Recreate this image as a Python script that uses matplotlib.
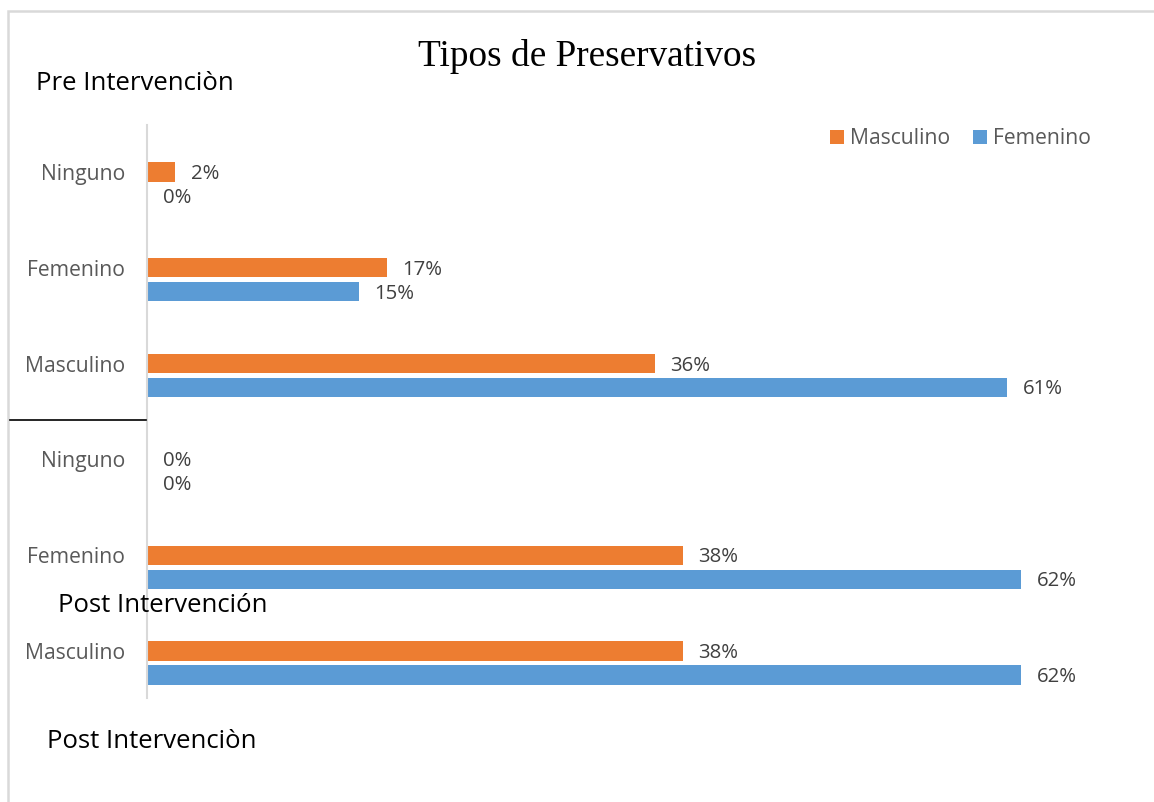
import matplotlib.pyplot as plt
from matplotlib.patches import Rectangle
from matplotlib.lines import Line2D

# datos (de arriba hacia abajo)
categorias = ["Ninguno", "Femenino", "Masculino", "Ninguno", "Femenino", "Masculino"]
masculino = [2, 17, 36, 0, 38, 38]
femenino = [0, 15, 61, 0, 62, 62]

naranja = "#ED7D31"
azul = "#5B9BD5"
gris = "#595959"
fuente = "Open Sans"

W, H = 1154, 802
fig = plt.figure(figsize=(W / 100, H / 100), dpi=100)

# eje en pixeles de la imagen
x0, x1 = 147, 1110
y_top, y_bot = 125, 698
ax = fig.add_axes([x0 / W, 1 - y_bot / H, (x1 - x0) / W, (y_bot - y_top) / H])

pos = list(range(len(categorias)))
alto = 0.2
sep = 0.25
ax.barh(pos, masculino, height=alto, color=naranja, label="Masculino")
ax.barh([p + sep for p in pos], femenino, height=alto, color=azul, label="Femenino")

for p, m, f in zip(pos, masculino, femenino):
    ax.text(m + 1.1, p + 0.02, f"{m}%", va="center", ha="left",
            fontsize=14.7, color="#404040", family=fuente)
    ax.text(f + 1.1, p + sep + 0.02, f"{f}%", va="center", ha="left",
            fontsize=14.7, color="#404040", family=fuente)

ax.set_xlim(0, (x1 - x0) / 14.1)
ax.set_ylim(5.49, -0.49)
ax.set_yticks(pos)
ax.set_yticklabels(categorias, fontsize=15.2, color=gris, family=fuente)
ax.tick_params(axis="y", length=0, pad=16)
ax.set_xticks([])
for s in ["top", "right", "bottom"]:
    ax.spines[s].set_visible(False)
ax.spines["left"].set_color("#d9d9d9")
ax.spines["left"].set_linewidth(1.5)

leg = fig.legend(loc="center left", bbox_to_anchor=(811 / W, 1 - 139 / H),
                 ncol=2, frameon=False, handlelength=0.65, handleheight=0.65,
                 handletextpad=0.3, columnspacing=1.1,
                 prop={"family": fuente, "size": 15.2})
for t in leg.get_texts():
    t.set_color(gris)

fig.text(587 / W, 1 - 56 / H, "Tipos de Preservativos", ha="center", va="center",
         fontsize=26.8, family="Liberation Serif", color="black")
fig.text(36 / W, 1 - 83 / H, "Pre Intervenciòn", ha="left", va="center",
         fontsize=18.5, family=fuente, color="black")
fig.text(58 / W, 1 - 606 / H, "Post Intervención", ha="left", va="center",
         fontsize=18.5, family=fuente, color="black")
fig.text(47 / W, 1 - 741 / H, "Post Intervenciòn", ha="left", va="center",
         fontsize=18.5, family=fuente, color="black")

# linea separadora y borde del grafico
fig.add_artist(Line2D([10 / W, 146 / W], [1 - 420 / H, 1 - 420 / H],
                      color="black", lw=1.2))
fig.add_artist(Rectangle((8 / W, -0.05), 1.1, 1 - 11 / H + 0.05, fill=False,
                         edgecolor="#d9d9d9", lw=1.8, transform=fig.transFigure))

plt.savefig("out.png", dpi=100)
